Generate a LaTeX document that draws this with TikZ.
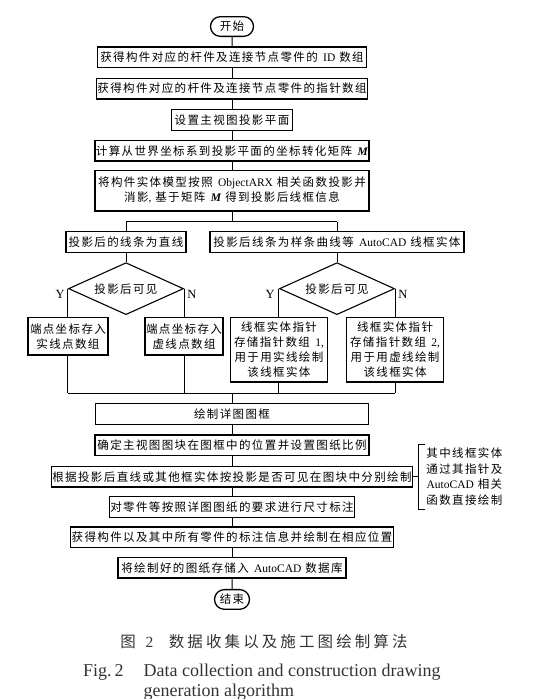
\documentclass[tikz,border=0pt]{standalone}
\usepackage{fontspec}
\setmainfont{Liberation Serif}
\newfontfamily\cjk[LetterSpace=12]{Noto Sans CJK SC}
\newfontfamily\capcjk[LetterSpace=20]{Noto Sans CJK SC}
\usetikzlibrary{shapes.geometric, shapes.misc, positioning, calc}

\begin{document}
\begin{tikzpicture}[node distance=9pt and 20pt,
  block/.style={rectangle, draw, line width=1.3pt, inner sep=1pt, minimum height=20.7pt, align=center, font=\cjk\fontsize{11.5}{15}\selectfont},
  terminal/.style={rounded rectangle, draw, line width=1.3pt, inner sep=2pt, minimum height=19.7pt, font=\cjk\fontsize{11.5}{15}\selectfont},
  decision/.style={diamond, draw, line width=1.1pt, aspect=2.2, inner sep=0pt, minimum width=115pt, minimum height=52pt, font=\cjk\fontsize{11.5}{15}\selectfont},
  yn/.style={inner sep=0pt, font=\fontsize{12.5}{14}\selectfont},
  note/.style={inner sep=0pt, align=center, font=\cjk\fontsize{11.5}{15.5}\selectfont},
  link/.style={line width=1pt}]
  \useasboundingbox (0,0) rectangle (541pt,-699pt);
  % Main column, top
  \node[terminal, minimum width=47pt] (start) at (232pt,-26.5pt) {开始};
  \node[block, minimum width=269pt, below=9.3pt of start] (getID) {获得构件对应的杆件及连接节点零件的 \textrm{ID} 数组};
  \node[block, minimum width=269pt, below=9.3pt of getID] (getPtr) {获得构件对应的杆件及连接节点零件的指针数组};
  \node[block, minimum width=121pt, below=9.3pt of getPtr] (setPlane) {设置主视图投影平面};
  \node[block, minimum width=271pt, below=8.8pt of setPlane] (calcM) {计算从世界坐标系到投影平面的坐标转化矩阵 \textrm{\bfseries\itshape M}};
  \node[block, minimum width=274pt, minimum height=40.7pt, below=7.8pt of calcM] (project) {将构件实体模型按照 \textrm{ObjectARX} 相关函数投影并\\消影\textrm{,} 基于矩阵 \textrm{\bfseries\itshape M} 得到投影后线框信息};
  % Two branches
  \coordinate[below=10pt of project] (split);
  \node[block, minimum width=120pt, below=19.3pt of project, xshift=-106pt] (lineA) {投影后的线条为直线};
  \node[block, minimum width=254pt, below=19.3pt of project, xshift=105pt] (lineB) {投影后线条为样条曲线等 \textrm{AutoCAD} 线框实体};
  \node[decision, below=9.3pt of lineA] (visA) {投影后可见};
  \node[decision, below=9.3pt of lineB] (visB) {投影后可见};
  \node[yn, anchor=north east] (visAY) at ($(visA.west)+(-3pt,-1pt)$) {Y};
  \node[yn, anchor=north west] (visAN) at ($(visA.east)+(3pt,-1pt)$) {N};
  \node[yn, anchor=north east] (visBY) at ($(visB.west)+(-4pt,-1pt)$) {Y};
  \node[yn, anchor=north west] (visBN) at ($(visB.east)+(3pt,-1pt)$) {N};
  \node[block, minimum width=80pt, minimum height=37.7pt, below=28pt of visA.west] (ptSolid) {端点坐标存入\\实线点数组};
  \node[block, minimum width=77pt, minimum height=37.7pt, below=28pt of visA.east] (ptDash) {端点坐标存入\\虚线点数组};
  \node[block, minimum width=97pt, minimum height=64.7pt, below=28pt of visB.west] (entSolid) {线框实体指针\\存储指针数组 \textrm{1,}\\用于用实线绘制\\该线框实体};
  \node[block, minimum width=97pt, minimum height=64.7pt, below=28pt of visB.east] (entDash) {线框实体指针\\存储指针数组 \textrm{2,}\\用于用虚线绘制\\该线框实体};
  \coordinate[yshift=-10.5pt] (merge) at (project.south |- entSolid.south);
  % Main column, bottom
  \node[block, minimum width=273pt, below=10pt of merge] (frame) {绘制详图图框};
  \node[block, minimum width=274pt, below=9.3pt of frame] (placeView) {确定主视图图块在图框中的位置并设置图纸比例};
  \node[block, minimum width=356pt, below=9.3pt of placeView] (drawLines) {根据投影后直线或其他框实体按投影是否可见在图块中分别绘制};
  \node[block, minimum width=242pt, below=8.3pt of drawLines] (dimension) {对零件等按照详图图纸的要求进行尺寸标注};
  \node[block, minimum width=322pt, below=8.3pt of dimension] (annotate) {获得构件以及其中所有零件的标注信息并绘制在相应位置};
  \node[block, minimum width=228pt, below=8.3pt of annotate] (store) {将绘制好的图纸存储入 \textrm{AutoCAD} 数据库};
  \node[terminal, minimum width=39pt, below=10.3pt of store] (stop) {结束};
  % Side note
  \coordinate[right=5pt of drawLines] (brk);
  \node[note, right=8pt of brk] (noteTxt) {其中线框实体\\通过其指针及\\\textrm{AutoCAD} 相关\\函数直接绘制};
  % Caption
  \node[inner sep=0pt, text=black!80, font=\capcjk\fontsize{15.5}{18}\selectfont] (figCn) at (264pt,-642pt) {图 \textrm{2}\quad 数据收集以及施工图绘制算法};
  \node[inner sep=0pt, anchor=base west, text=black!80, font=\fontsize{18}{20.5}\selectfont] (figEn) at (83pt,-676pt) {\begin{tabular}[t]{@{}l@{\hspace{20pt}}l@{}}Fig.\,2 & Data collection and construction drawing\\ & generation algorithm\end{tabular}};
  % Lines
  \draw[link] (start) -- (getID);
  \draw[link] (getID) -- (getPtr);
  \draw[link] (getPtr) -- (setPlane);
  \draw[link] (setPlane) -- (calcM);
  \draw[link] (calcM) -- (project);
  \draw[link] (project) -- (split);
  \draw[link] (lineA |- split) -- (lineB |- split);
  \draw[link] (lineA |- split) -- (lineA);
  \draw[link] (lineB |- split) -- (lineB);
  \draw[link] (lineA) -- (visA);
  \draw[link] (lineB) -- (visB);
  \draw[link] (visA.west) -- (ptSolid);
  \draw[link] (visA.east) -- (ptDash);
  \draw[link] (visB.west) -- (entSolid);
  \draw[link] (visB.east) -- (entDash);
  \draw[link] (ptSolid) -- (ptSolid |- merge);
  \draw[link] (ptDash) -- (ptDash |- merge);
  \draw[link] (entSolid) -- (entSolid |- merge);
  \draw[link] (entDash) -- (entDash |- merge);
  \draw[link] (ptSolid |- merge) -- (entDash |- merge);
  \draw[link] (merge) -- (frame);
  \draw[link] (frame) -- (placeView);
  \draw[link] (placeView) -- (drawLines);
  \draw[link] (drawLines) -- (dimension);
  \draw[link] (dimension) -- (annotate);
  \draw[link] (annotate) -- (store);
  \draw[link] (store) -- (stop);
  \draw[link] (drawLines.east) -- (brk);
  \draw[link] ([xshift=7pt, yshift=32.5pt]brk) -- ([yshift=32.5pt]brk) -- ([yshift=-32.5pt]brk) -- ([xshift=7pt, yshift=-32.5pt]brk);
\end{tikzpicture}
\end{document}
